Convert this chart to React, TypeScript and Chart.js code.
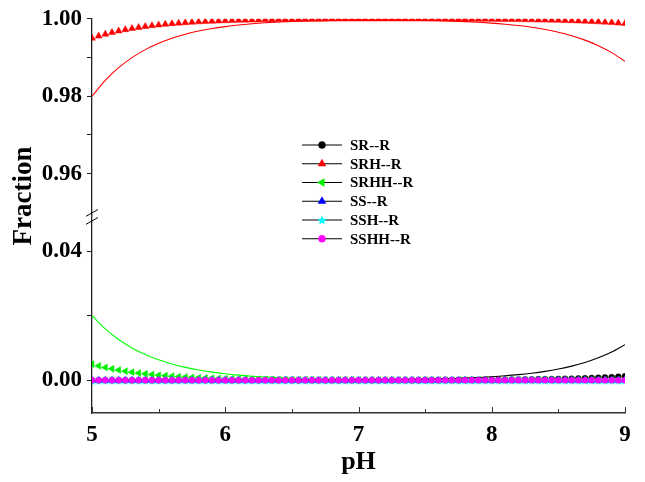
import React, { useEffect, useRef } from 'react';
import { Chart, registerables } from 'chart.js';
import { drawPoint } from 'chart.js/helpers';

Chart.register(...registerables);

// ---------- data ----------
const phMarkers = [
  5.0, 5.05, 5.1, 5.15, 5.2, 5.25, 5.3, 5.35, 5.4, 5.45,
  5.5, 5.55, 5.6, 5.65, 5.7, 5.75, 5.8, 5.85, 5.9, 5.95,
  6.0, 6.05, 6.1, 6.15, 6.2, 6.25, 6.3, 6.35, 6.4, 6.45,
  6.5, 6.55, 6.6, 6.65, 6.7, 6.75, 6.8, 6.85, 6.9, 6.95,
  7.0, 7.05, 7.1, 7.15, 7.2, 7.25, 7.3, 7.35, 7.4, 7.45,
  7.5, 7.55, 7.6, 7.65, 7.7, 7.75, 7.8, 7.85, 7.9, 7.95,
  8.0, 8.05, 8.1, 8.15, 8.2, 8.25, 8.3, 8.35, 8.4, 8.45,
  8.5, 8.55, 8.6, 8.65, 8.7, 8.75, 8.8, 8.85, 8.9, 8.95,
  9.0,
];

const srMarkers = [
  0, 0, 0, 0, 0, 0, 0, 0, 0, 0,
  0, 0, 0, 0, 0, 0, 0, 0, 0, 0,
  0, 0, 0, 0, 0, 0, 0, 0, 0, 0,
  0, 0, 0, 0, 0, 0.00001, 0.00001, 0.00001, 0.00001, 0.00001,
  0.00001, 0.00001, 0.00001, 0.00002, 0.00002, 0.00002, 0.00002, 0.00003, 0.00003, 0.00003,
  0.00004, 0.00004, 0.00005, 0.00005, 0.00006, 0.00007, 0.00008, 0.00008, 0.0001, 0.00011,
  0.00012, 0.00013, 0.00015, 0.00017, 0.00019, 0.00021, 0.00024, 0.00027, 0.0003, 0.00034,
  0.00038, 0.00043, 0.00048, 0.00054, 0.0006, 0.00067, 0.00076, 0.00085, 0.00095, 0.00107,
  0.0012,
];

const srhMarkers = [
  0.995, 0.99554, 0.99603, 0.99646, 0.99685, 0.99719, 0.99749, 0.99777, 0.99801, 0.99823,
  0.99842, 0.99859, 0.99874, 0.99888, 0.999, 0.99911, 0.99921, 0.99929, 0.99937, 0.99944,
  0.9995, 0.99955, 0.9996, 0.99965, 0.99968, 0.99972, 0.99975, 0.99978, 0.9998, 0.99982,
  0.99984, 0.99986, 0.99987, 0.99989, 0.9999, 0.99991, 0.99992, 0.99993, 0.99993, 0.99994,
  0.99994, 0.99995, 0.99995, 0.99995, 0.99995, 0.99995, 0.99995, 0.99995, 0.99995, 0.99995,
  0.99994, 0.99994, 0.99993, 0.99993, 0.99992, 0.99991, 0.9999, 0.9999, 0.99988, 0.99987,
  0.99986, 0.99985, 0.99983, 0.99981, 0.99979, 0.99977, 0.99974, 0.99971, 0.99968, 0.99964,
  0.9996, 0.99955, 0.9995, 0.99944, 0.99938, 0.99931, 0.99922, 0.99913, 0.99903, 0.99891,
  0.99878,
];

const srhhMarkers = [
  0.005, 0.00446, 0.00397, 0.00354, 0.00315, 0.00281, 0.00251, 0.00223, 0.00199, 0.00177,
  0.00158, 0.00141, 0.00126, 0.00112, 0.001, 0.00089, 0.00079, 0.00071, 0.00063, 0.00056,
  0.0005, 0.00045, 0.0004, 0.00035, 0.00032, 0.00028, 0.00025, 0.00022, 0.0002, 0.00018,
  0.00016, 0.00014, 0.00013, 0.00011, 0.0001, 0.00009, 0.00008, 0.00007, 0.00006, 0.00006,
  0.00005, 0.00004, 0.00004, 0.00004, 0.00003, 0.00003, 0.00003, 0.00002, 0.00002, 0.00002,
  0.00002, 0.00001, 0.00001, 0.00001, 0.00001, 0.00001, 0.00001, 0.00001, 0.00001, 0.00001,
  0.00001, 0, 0, 0, 0, 0, 0, 0, 0, 0,
  0, 0, 0, 0, 0, 0, 0, 0, 0, 0,
  0,
];

const ssMarkers = [
  0, 0, 0, 0, 0, 0, 0, 0, 0, 0,
  0, 0, 0, 0, 0, 0, 0, 0, 0, 0,
  0, 0, 0, 0, 0, 0, 0, 0, 0, 0,
  0, 0, 0, 0, 0, 0, 0, 0, 0, 0,
  0, 0, 0, 0, 0, 0, 0, 0, 0, 0,
  0, 0, 0, 0, 0, 0, 0, 0, 0, 0,
  0, 0, 0, 0, 0, 0, 0, 0, 0, 0,
  0, 0, 0, 0, 0, 0, 0, 0, 0, 0,
  0,
];

const sshMarkers = [
  0, 0, 0, 0, 0, 0, 0, 0, 0, 0,
  0, 0, 0, 0, 0, 0, 0, 0, 0, 0,
  0, 0, 0, 0, 0, 0, 0, 0, 0, 0,
  0, 0, 0, 0, 0, 0, 0, 0, 0, 0,
  0, 0, 0, 0, 0, 0, 0, 0, 0, 0,
  0, 0, 0, 0, 0, 0, 0, 0, 0, 0,
  0, 0, 0, 0, 0, 0, 0, 0, 0, 0,
  0, 0, 0, 0, 0, 0, 0, 0, 0, 0,
  0,
];

const sshhMarkers = [
  0, 0, 0, 0, 0, 0, 0, 0, 0, 0,
  0, 0, 0, 0, 0, 0, 0, 0, 0, 0,
  0, 0, 0, 0, 0, 0, 0, 0, 0, 0,
  0, 0, 0, 0, 0, 0, 0, 0, 0, 0,
  0, 0, 0, 0, 0, 0, 0, 0, 0, 0,
  0, 0, 0, 0, 0, 0, 0, 0, 0, 0,
  0, 0, 0, 0, 0, 0, 0, 0, 0, 0,
  0, 0, 0, 0, 0, 0, 0, 0, 0, 0,
  0,
];

const phLine = [
  5.0, 5.1, 5.2, 5.3, 5.4, 5.5, 5.6, 5.7, 5.8, 5.9,
  6.0, 6.1, 6.2, 6.3, 6.4, 6.5, 6.6, 6.7, 6.8, 6.9,
  7.0, 7.1, 7.2, 7.3, 7.4, 7.5, 7.6, 7.7, 7.8, 7.9,
  8.0, 8.1, 8.2, 8.3, 8.4, 8.5, 8.6, 8.7, 8.8, 8.9,
  9.0,
];

const srLine = [
  0, 0, 0, 0, 0, 0, 0, 0, 0, 0,
  0.00001, 0.00001, 0.00002, 0.00002, 0.00003, 0.00003, 0.00004, 0.00006, 0.00007, 0.00009,
  0.00011, 0.00014, 0.00017, 0.00022, 0.00028, 0.00035, 0.00044, 0.00055, 0.00069, 0.00087,
  0.0011, 0.00138, 0.00174, 0.00219, 0.00276, 0.00348, 0.00438, 0.00551, 0.00694, 0.00874,
  0.011,
];

const srhLine = [
  0.98, 0.98411, 0.98738, 0.98998, 0.99204, 0.99368, 0.99498, 0.99601, 0.99683, 0.99748,
  0.99799, 0.9984, 0.99872, 0.99898, 0.99917, 0.99934, 0.99946, 0.99954, 0.99961, 0.99966,
  0.99969, 0.9997, 0.9997, 0.99968, 0.99964, 0.99959, 0.99951, 0.99941, 0.99928, 0.9991,
  0.99888, 0.9986, 0.99825, 0.9978, 0.99723, 0.99651, 0.99562, 0.99449, 0.99306, 0.99126,
  0.989,
];

const srhhLine = [
  0.02, 0.01589, 0.01262, 0.01002, 0.00796, 0.00632, 0.00502, 0.00399, 0.00317, 0.00252,
  0.002, 0.00159, 0.00126, 0.001, 0.0008, 0.00063, 0.0005, 0.0004, 0.00032, 0.00025,
  0.0002, 0.00016, 0.00013, 0.0001, 0.00008, 0.00006, 0.00005, 0.00004, 0.00003, 0.00003,
  0.00002, 0.00002, 0.00001, 0.00001, 0.00001, 0.00001, 0.00001, 0, 0, 0,
  0,
];

const seriesNames = ['SR--R', 'SRH--R', 'SRHH--R', 'SS--R', 'SSH--R', 'SSHH--R'];

const xTicks = [5, 5.5, 6, 6.5, 7, 7.5, 8, 8.5, 9];
const xLabeled = [5, 6, 7, 8, 9];
const yTopTicks = [0.96, 0.97, 0.98, 0.99, 1.0];
const yTopLabeled = [0.96, 0.98, 1.0];
const yBotTicks = [0, 0.02, 0.04];
const yBotLabeled = [0, 0.04];

const FONT = "'Liberation Serif', 'Times New Roman', serif";

function makeStar(color: string, size: number) {
  const c = document.createElement('canvas');
  c.width = size;
  c.height = size;
  const g = c.getContext('2d')!;
  const cx = size / 2, cy = size / 2 + 0.5, R = size / 2, r = R * 0.45;
  g.beginPath();
  for (let i = 0; i < 10; i++) {
    const a = -Math.PI / 2 + (i * Math.PI) / 5;
    const rad = i % 2 === 0 ? R : r;
    g.lineTo(cx + rad * Math.cos(a), cy + rad * Math.sin(a));
  }
  g.closePath();
  g.fillStyle = color;
  g.fill();
  return c;
}

const pts = (xs: number[], ys: number[]) => xs.map((x, i) => ({ x, y: ys[i] }));

export default function App() {
  const ref = useRef<HTMLCanvasElement>(null);

  useEffect(() => {
    const star = makeStar('#00ffff', 10);

    const markerStyles = [
      { color: '#000000', style: 'circle', rotation: 0, radius: 3 },
      { color: '#ff0000', style: 'triangle', rotation: 0, radius: 4 },
      { color: '#00ee00', style: 'triangle', rotation: 270, radius: 4 },
      { color: '#0000ff', style: 'triangle', rotation: 0, radius: 4 },
      { color: '#00ffff', style: star as any, rotation: 0, radius: 4 },
      { color: '#ff00ff', style: 'circle', rotation: 0, radius: 3 },
    ];
    const markerData = [srMarkers, srhMarkers, srhhMarkers, ssMarkers, sshMarkers, sshhMarkers];
    const markerAxis = ['yBot', 'yTop', 'yBot', 'yBot', 'yBot', 'yBot'];
    const markerOrder = [6, 5, 5, 4, 3, 0];

    const markerSets = markerData.map((arr, i) => ({
      label: seriesNames[i],
      data: pts(phMarkers, arr),
      yAxisID: markerAxis[i],
      showLine: false,
      clip: 0,
      pointStyle: markerStyles[i].style,
      rotation: markerStyles[i].rotation,
      pointRadius: markerStyles[i].radius,
      pointBackgroundColor: markerStyles[i].color,
      pointBorderColor: markerStyles[i].color,
      pointBorderWidth: 0.5,
      order: markerOrder[i],
    }));

    const lineSets = [
      { data: pts(phLine, srLine), color: '#000000', axis: 'yBot' },
      { data: pts(phLine, srhLine), color: '#ff0000', axis: 'yTop' },
      { data: pts(phLine, srhhLine), color: '#00ff00', axis: 'yBot' },
    ].map((d) => ({
      label: '',
      data: d.data,
      yAxisID: d.axis,
      borderColor: d.color,
      borderWidth: 1.1,
      pointRadius: 0,
      fill: false,
      cubicInterpolationMode: 'monotone' as const,
      order: 1,
    }));

    const tickFont = { family: FONT, size: 23, weight: 'bold' as const };

    const overlay = {
      id: 'overlay',
      afterDraw(chart: any) {
        const ctx = chart.ctx as CanvasRenderingContext2D;
        const xs = chart.scales.x;
        const yt = chart.scales.yTop;
        ctx.save();
        // inward x ticks
        ctx.strokeStyle = '#333';
        ctx.lineWidth = 1;
        const axisY = xs.top;
        for (const v of xTicks) {
          const px = Math.round(xs.getPixelForValue(v)) + 0.5;
          const len = xLabeled.includes(v) ? 6 : 4;
          ctx.beginPath();
          ctx.moveTo(px, axisY);
          ctx.lineTo(px, axisY - len);
          ctx.stroke();
        }
        // axis break marks
        const bx = yt.right;
        const by = yt.bottom;
        ctx.strokeStyle = '#000';
        ctx.lineWidth = 1;
        for (const off of [-3, 5]) {
          ctx.beginPath();
          ctx.moveTo(bx - 6, by + off + 3.4);
          ctx.lineTo(bx + 6, by + off - 3.4);
          ctx.stroke();
        }
        // y-axis title
        ctx.save();
        ctx.translate(24, yt.bottom - 20);
        ctx.rotate(-Math.PI / 2);
        ctx.font = `bold 27px ${FONT}`;
        ctx.fillStyle = '#000';
        ctx.textAlign = 'center';
        ctx.textBaseline = 'middle';
        ctx.fillText('Fraction', 0, 0);
        ctx.restore();
        // legend
        const lx0 = 302, lx1 = 342, mx = 322, tx = 350;
        const ly0 = 145, step = 18.75;
        ctx.font = `bold 15px ${FONT}`;
        ctx.textAlign = 'left';
        ctx.textBaseline = 'middle';
        markerStyles.forEach((m, i) => {
          const y = ly0 + i * step;
          ctx.strokeStyle = '#000';
          ctx.lineWidth = 1;
          ctx.beginPath();
          ctx.moveTo(lx0, y);
          ctx.lineTo(lx1, y);
          ctx.stroke();
          ctx.fillStyle = m.color;
          ctx.strokeStyle = m.color;
          ctx.lineWidth = 0.5;
          drawPoint(ctx, { pointStyle: m.style, rotation: m.rotation, radius: m.radius + 0.5, borderWidth: 0.5 } as any, mx, y);
          ctx.fillStyle = '#000';
          ctx.fillText(seriesNames[i], tx, y + 1);
        });
        ctx.restore();
      },
    };

    const chart = new Chart(ref.current!, {
      type: 'line',
      data: { datasets: [...lineSets, ...markerSets] as any },
      options: {
        responsive: true,
        maintainAspectRatio: false,
        animation: false,
        layout: { padding: { top: 16, right: 20, left: 0, bottom: 0 } },
        plugins: { legend: { display: false }, tooltip: { enabled: false } },
        scales: {
          x: {
            type: 'linear',
            position: 'bottom',
            min: 5,
            max: 9,
            afterBuildTicks: (s: any) => {
              s.ticks = xTicks.map((v) => ({ value: v }));
            },
            afterFit: (s: any) => {
              s.height = 69;
            },
            grid: { drawOnChartArea: false, drawTicks: false },
            border: { display: true, color: '#333', width: 1.5 },
            ticks: {
              autoSkip: false,
              maxRotation: 0,
              padding: 8,
              color: '#000',
              font: tickFont,
              callback: (v: any) => (xLabeled.includes(v) ? String(v) : ''),
            },
            title: {
              display: true,
              text: 'pH',
              color: '#000',
              font: { family: FONT, size: 26, weight: 'bold' },
              padding: { top: 0, bottom: 4 },
            },
          },
          yBot: {
            type: 'linear',
            position: 'left',
            stack: 'y',
            stackWeight: 1,
            min: -0.01015,
            max: 0.05092,
            afterBuildTicks: (s: any) => {
              s.ticks = yBotTicks.map((v) => ({ value: v }));
            },
            afterFit: (s: any) => {
              s.width = 92;
            },
            grid: { drawOnChartArea: false, drawTicks: true, tickLength: 5, color: '#222' },
            border: { display: true, color: '#222', width: 1.3 },
            ticks: {
              autoSkip: false,
              padding: 5,
              color: '#000',
              font: tickFont,
              callback: (v: any) => (yBotLabeled.includes(v) ? Number(v).toFixed(2) : ''),
            },
          },
          yTop: {
            type: 'linear',
            position: 'left',
            stack: 'y',
            stackWeight: 1,
            min: 0.9491,
            max: 1.0,
            afterBuildTicks: (s: any) => {
              s.ticks = yTopTicks.map((v) => ({ value: v }));
            },
            afterFit: (s: any) => {
              s.width = 92;
            },
            grid: { drawOnChartArea: false, drawTicks: true, tickLength: 5, color: '#222' },
            border: { display: true, color: '#222', width: 1.3 },
            ticks: {
              autoSkip: false,
              padding: 5,
              color: '#000',
              font: tickFont,
              callback: (v: any) => (yTopLabeled.includes(v) ? Number(v).toFixed(2) : ''),
            },
          },
        } as any,
      },
      plugins: [overlay],
    });
    return () => chart.destroy();
  }, []);

  return (
    <div style={{ position: 'absolute', left: 0, top: 0, width: 645, height: 482, background: '#fff' }}>
      <canvas ref={ref} />
    </div>
  );
}
